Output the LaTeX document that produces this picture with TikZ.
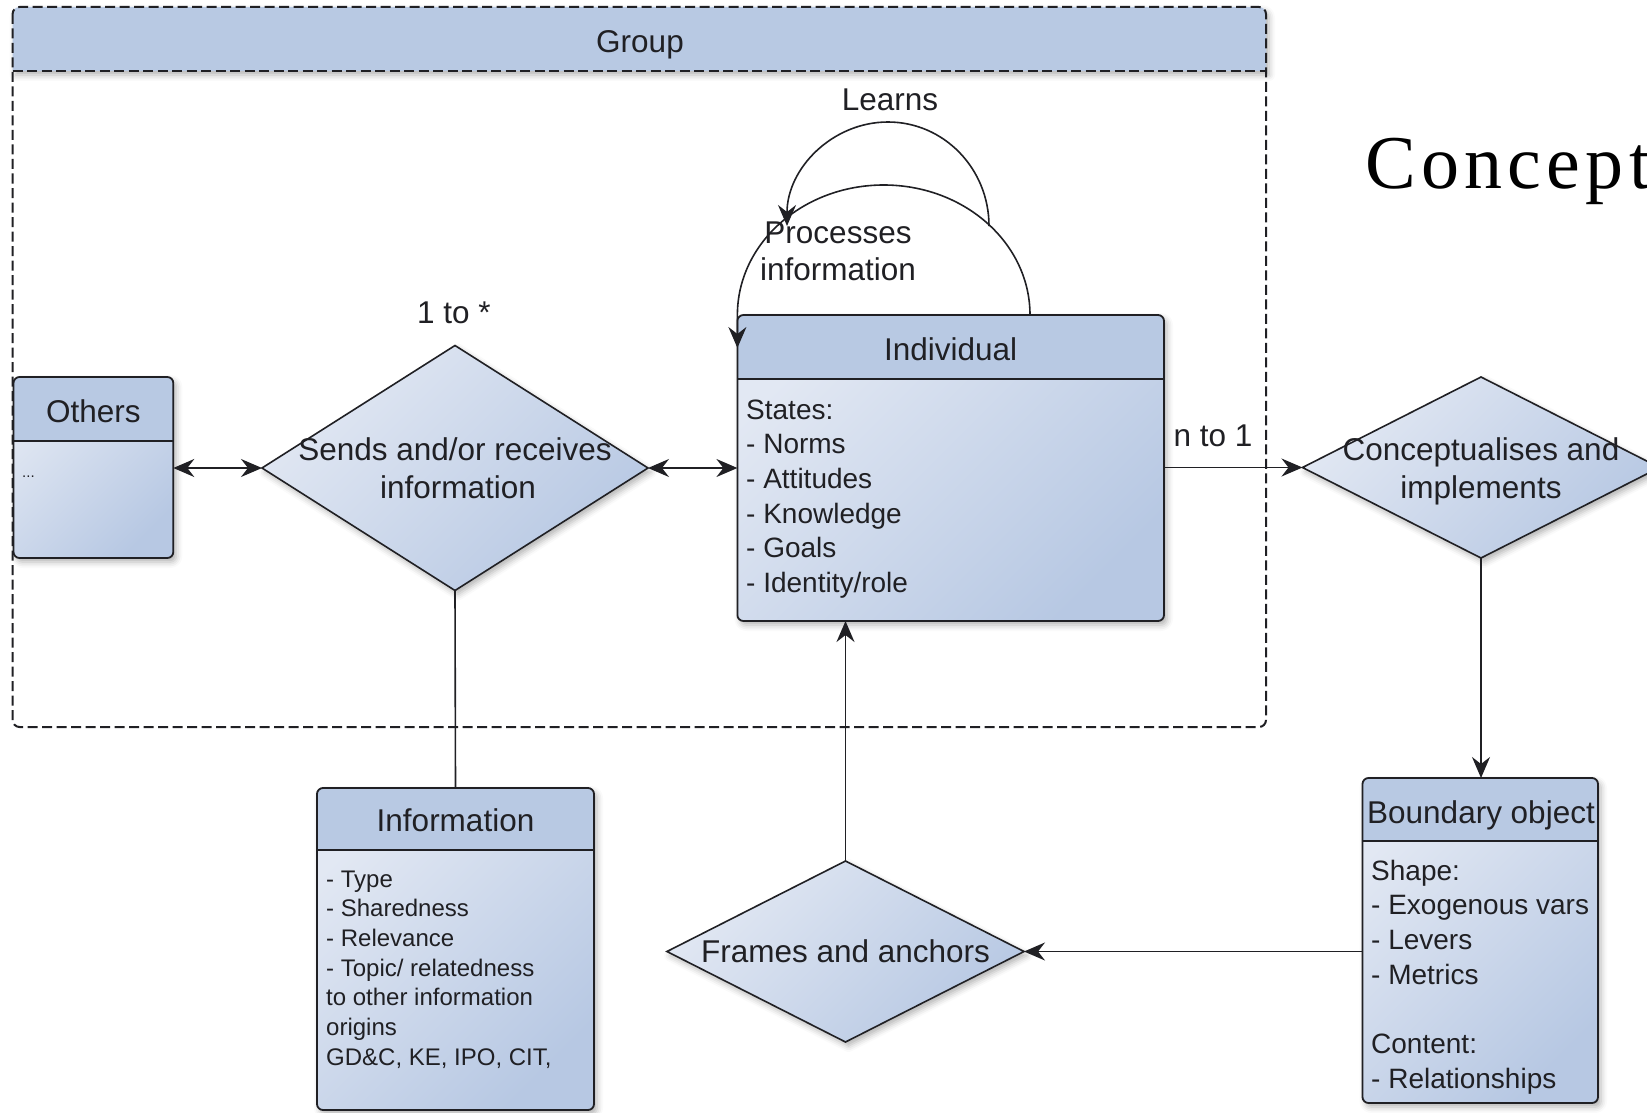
\documentclass[tikz,border=0pt]{standalone}
\usepackage{fontspec}
\setmainfont{Liberation Sans}
\newfontfamily\titleserif[LetterSpace=7]{Liberation Serif}
\usetikzlibrary{arrows.meta,shapes.geometric,shadows.blur}

\definecolor{headblue}{RGB}{184,201,227}
\definecolor{bodylight}{RGB}{226,232,243}
\definecolor{bodydark}{RGB}{183,200,227}
\definecolor{inkgray}{RGB}{32,32,36}

\tikzset{
  fs/.style={font=\fontsize{#1}{#1}\selectfont},
  softshadow/.style={blur shadow={shadow xshift=3pt,shadow yshift=-4pt,
      shadow blur radius=6pt,shadow opacity=30}},
  boxline/.style={draw=inkgray,line width=1.8pt},
  conn/.style={draw=inkgray,line width=1.6pt},
  grpline/.style={draw=inkgray,line width=2pt,dash pattern=on 10pt off 4.5pt},
  boxshape/.style={rectangle,rounded corners=6pt,draw=none,inner sep=0pt,outer sep=0pt,
      top color=bodylight,bottom color=bodydark,shading angle=45,softshadow},
  decision/.style={diamond,draw=inkgray,line width=1.6pt,inner sep=0pt,outer sep=0pt,
      top color=bodylight,bottom color=bodydark,shading angle=45,softshadow},
  titletext/.style={anchor=base,inner sep=0pt,fs=31.5,text=inkgray},
  bodytext/.style={anchor=base west,inner sep=0pt,fs=28,text=inkgray},
  smalltext/.style={anchor=base west,inner sep=0pt,fs=24,text=inkgray},
}

% class box: name, left, top, right, bottom, divider
\newcommand\classbox[6]{%
  \node[boxshape,minimum width={(#4-#2)*1pt},minimum height={(#5-#3)*1pt}]
    (#1) at ({(#2+#4)/2},{(#3+#5)/2}) {};
  \begin{scope}
    \clip[rounded corners=6pt] (#2,#3) rectangle (#4,#5);
    \fill[headblue] (#2,#3) rectangle (#4,#6);
  \end{scope}
  \draw[boxline,rounded corners=6pt] (#2,#3) rectangle (#4,#5);
  \draw[boxline] (#2,#6) -- (#4,#6);
}

\begin{document}
\begin{tikzpicture}[x=1pt,y=-1pt,>={Stealth[length=21pt,width=18pt,inset=7pt]}]
\useasboundingbox (0,0) rectangle (1647,1113);
\clip (0,0) rectangle (1647,1113);

% ---- Group container ----
\fill[headblue,softshadow] (12.6,71) -- (12.6,14)
  arc[start angle=180,end angle=90,radius=7pt] -- (1259,7)
  arc[start angle=90,end angle=0,radius=7pt] -- (1266,71) -- cycle;
\draw[grpline,rounded corners=7pt] (12.6,7) rectangle (1266,727);
\draw[grpline] (12.6,71) -- (1266,71);
\node[titletext] (grpt) at (640,53) {Group};

% ---- Title ----
\node[anchor=base west,inner sep=0pt,text=black] (ttl) at (1365,188)
  {\titleserif\fontsize{76}{76}\selectfont Concept};

% ---- Class boxes ----
\classbox{oth}{13.5}{377}{173.3}{558}{441}
\node[titletext] (otht) at (93.4,422) {Others};
\node[anchor=base west,inner sep=0pt,fs=15,text=inkgray] (othb) at (22,477) {...};

\classbox{ind}{737.4}{315}{1164}{621}{379}
\node[titletext] (indt) at (950.7,360) {Individual};
\foreach \t [count=\i from 0] in {States:,- Norms,- Attitudes,- Knowledge,- Goals,- Identity/role}
  \node[bodytext] (indl\i) at (746,{419+34.7*\i}) {\t};

\classbox{inf}{317}{788}{594}{1110}{850}
\node[titletext] (inft) at (455.5,831) {Information};
\foreach \t [count=\i from 0] in {- Type,- Sharedness,- Relevance,- Topic/ relatedness,
    to other information,origins,{GD\&C, KE, IPO, CIT,}}
  \node[smalltext] (infl\i) at (326,{887+29.7*\i}) {\t};

\classbox{bo}{1362.5}{778}{1598}{1103}{841}
\node[titletext] (bot) at (1481,823) {Boundary object};
\foreach \t/\k in {Shape:/0,- Exogenous vars/1,- Levers/2,- Metrics/3,Content:/5,- Relationships/6}
  \node[bodytext] (bol\k) at (1371,{880+34.7*\k}) {\t};

% ---- Decisions ----
\node[decision,minimum width=386pt,minimum height=245pt] (snd) at (455,468) {};
\node[titletext] (snd1) at (455,460) {Sends and/or receives};
\node[titletext] (snd2) at (458,498) {information};

\node[decision,minimum width=357pt,minimum height=181pt] (con) at (1481,467.5) {};
\node[titletext] (con1) at (1481,460) {Conceptualises and};
\node[titletext] (con2) at (1481,498) {implements};

\node[decision,minimum width=357pt,minimum height=181pt] (fra) at (845.5,951.5) {};
\node[titletext] (fra1) at (845.5,962) {Frames and anchors};

% ---- Connectors ----
\draw[conn,<->] (oth.east |- snd.west) -- (snd.west);
\draw[conn,<->] (snd.east) -- (snd.east -| ind.west);
\draw[conn,->] (ind.east |- con.west) -- (con.west);
\draw[conn] (snd.south) -- (inf.north);
\draw[conn,->] (con.south) -- (con.south |- bo.north);
\draw[conn,->] (bo.west |- fra.east) -- (fra.east);
\draw[conn,->] (fra.north) -- (fra.north |- ind.south);

% self loops on Individual
\coordinate (pst) at (1030,315);
\coordinate (pend) at (737.4,348);
\draw[conn,->] (pst) arc[start angle=0,end angle=180,x radius=146.3pt,y radius=130pt] -- (pend);
\coordinate (lst) at (989,226);
\draw[conn,->] (lst) arc[start angle=0,end angle=180,x radius=101pt,y radius=104pt];

% ---- Labels ----
\node[titletext] (lbl1) at (890,111) {Learns};
\node[titletext] (lbl2) at (838,243) {Processes};
\node[titletext] (lbl3) at (838,280) {information};
\node[titletext] (lbl4) at (454,323) {1 to *};
\node[titletext] (lbl5) at (1213,446) {n to 1};
\end{tikzpicture}
\end{document}
